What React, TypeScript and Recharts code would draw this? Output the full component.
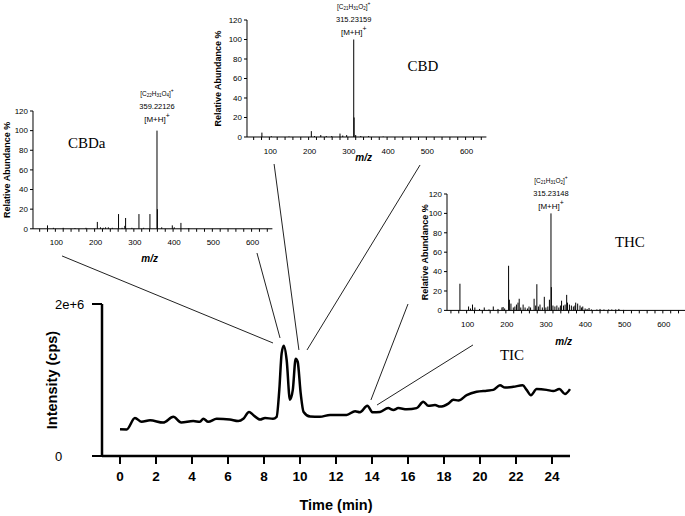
import React from 'react';
import { LineChart, Line, BarChart, Bar, XAxis, YAxis, ReferenceLine, ReferenceDot } from 'recharts';

const SANS = '"Liberation Sans", Arial, Helvetica, sans-serif';
const SERIF = '"Liberation Serif", "Times New Roman", Times, serif';

// total ion chromatogram
const ticTime = [0, 0.37, 0.83, 1.2, 1.67, 2.4, 2.96, 3.4, 4.07, 4.44, 4.63, 4.9, 5.37, 6.1, 6.57, 6.85, 7.17, 7.4, 7.78, 8.06, 8.5, 8.7, 8.85, 8.98, 9.1, 9.26, 9.44, 9.6, 9.76, 9.87, 10.04, 10.2, 10.56, 11.1, 11.67, 12.59, 13.06, 13.33, 13.74, 14.04, 14.44, 14.9, 15.19, 15.46, 15.93, 16.48, 16.85, 17.13, 17.5, 17.78, 18.24, 18.52, 18.8, 19.26, 19.81, 20.37, 20.74, 21.11, 21.39, 21.85, 22.37, 22.59, 22.83, 23.15, 23.7, 24.07, 24.41, 24.72, 25.0];
const ticIntensity = [352000, 350000, 500000, 450000, 470000, 440000, 515000, 440000, 460000, 450000, 490000, 450000, 490000, 480000, 460000, 490000, 580000, 540000, 480000, 500000, 490000, 515000, 870000, 1350000, 1450000, 1260000, 740000, 870000, 1280000, 1240000, 820000, 580000, 520000, 515000, 540000, 540000, 590000, 575000, 660000, 575000, 580000, 630000, 605000, 630000, 615000, 630000, 715000, 660000, 670000, 650000, 690000, 740000, 730000, 800000, 845000, 860000, 870000, 930000, 900000, 910000, 930000, 870000, 800000, 880000, 870000, 855000, 880000, 815000, 880000];
const timeTicks = [0, 2, 4, 6, 8, 10, 12, 14, 16, 18, 20, 22, 24];
const intensityTicks = [0, 2000000];

// mass spectra (m/z, relative abundance %)
const cbdaMz = [80, 95, 120, 150, 178, 207, 215, 222, 228, 235, 245, 261, 270, 277, 279, 295, 313, 325, 341, 359, 360, 371, 398, 403, 420, 440];
const cbdaAbundance = [3.5, 1, 1, 0.8, 1, 7, 1.5, 1, 1.5, 1.5, 1, 15, 1, 3, 11, 1, 15, 1, 15, 100, 20, 1.5, 3.5, 1.5, 6, 0.8];

const cbdMz = [81, 105, 150, 207, 215, 231, 245, 259, 280, 287, 297, 315, 316, 320, 333, 353, 390];
const cbdAbundance = [4.5, 0.8, 0.5, 6, 1, 2, 1, 1, 3.5, 1.5, 2, 100, 20, 2, 1, 1, 0.5];

const thcMz = [83, 105, 110, 115, 121, 133, 145, 157, 168, 180, 190, 193, 197, 207, 209, 213, 219, 223, 227, 231, 234, 238, 244, 249, 255, 259, 263, 272, 276, 279, 283, 287, 293, 298, 302, 307, 311, 315, 316, 320, 325, 330, 335, 339, 342, 347, 351, 355, 357, 362, 367, 372, 376, 378, 383, 389, 393, 396, 402, 407, 412, 418, 432, 440, 450, 462, 470, 480, 488, 500];
const thcAbundance = [27.5, 4, 2, 6, 3, 1.5, 3, 1, 4, 1.5, 3, 3.5, 2, 46, 11, 7, 3, 4, 6, 8, 12, 3, 6, 3, 2, 4, 3, 12, 5, 27, 4, 6, 3, 14, 3, 4, 11, 100, 24, 5, 4, 5, 3, 5, 10, 5, 6, 16, 8, 6, 5, 4, 5, 8, 7, 5, 3, 4, 2, 1.5, 2.5, 1, 1, 1.5, 1, 1, 1, 1, 1.5, 0.5];

const mzTicks = [60, 80, 100, 120, 140, 160, 180, 200, 220, 240, 260, 280, 300, 320, 340, 360, 380, 400, 420, 440, 460, 480, 500, 520, 540, 560, 580, 600, 620, 640];
const abundanceTicks = [0, 20, 40, 60, 80, 100, 120];

// pointer lines from the spectra to the peaks, in (time, intensity) units
const connectors = [
  [-3.22, 2632000, 8.5, 1487000],
  [7.61, 2671000, 8.89, 1553000],
  [8.56, 3842000, 9.94, 1395000],
  [16.67, 3829000, 10.39, 1395000],
  [16.0, 2000000, 13.94, 737000],
  [19.61, 1461000, 14.28, 671000],
];

const IntensityTick = (p: any) => {
  const v = p.payload.value;
  return (
    <text x={p.x - 35} y={p.y} dy="0.35em" textAnchor="start" fontSize={13} fontFamily={SANS} fill="#000">
      {v === 0 ? '0' : v.toExponential(0)}
    </text>
  );
};

const MzTick = (p: any) => {
  if (p.payload.value % 100 !== 0) return <g />;
  return (
    <text x={p.x + 1} y={p.y} dy="0.71em" textAnchor="middle" fontSize={8} fontFamily={SANS} fill="#000">
      {p.payload.value}
    </text>
  );
};

const Stick = (p: any) => {
  const cx = p.x + p.width / 2;
  return <line x1={cx} x2={cx} y1={p.y} y2={p.y + p.height} stroke="#000" strokeWidth={1} />;
};

const PeakNote = ({ viewBox, formula, mass, lift }: any) => {
  const x = viewBox.x + (viewBox.width || 0) / 2;
  const y = viewBox.y + (viewBox.height || 0) / 2 - lift;
  return (
    <g fontFamily={SANS} fill="#000">
      <text x={x} y={y - 33} fontSize={6.5} textAnchor="middle" dominantBaseline="central">
        [
        {formula.map((s: string, i: number) =>
          i % 2 === 0 ? (
            <tspan key={i} dy={i === 0 ? 0 : -1.8}>{s}</tspan>
          ) : (
            <tspan key={i} fontSize={4.5} dy={1.8}>{s}</tspan>
          )
        )}
        <tspan dy={-1.8}>]</tspan>
        <tspan fontSize={5} dy={-3}>+</tspan>
      </text>
      <text x={x} y={y - 20} fontSize={7.5} textAnchor="middle" dominantBaseline="central">{mass}</text>
      <text x={x} y={y - 7} fontSize={8} textAnchor="middle" dominantBaseline="central">
        [M+H]<tspan fontSize={7} dy={-4}>+</tspan>
      </text>
    </g>
  );
};

const Spectrum = (props: any) => {
  const { mz, ab, x0, x1, yTop, yBase, titleY, yLabelX, domain, name, namePos, peak, formula, mass, lift } = props;
  const axisW = 34;
  const left = x0 - axisW;
  const top = yTop - 32;
  const width = x1 - left + 6;
  const xAxisH = 2 * (titleY - yBase);
  const height = yBase - top + xAxisH;
  const data = mz.map((m: number, i: number) => ({ mz: m, ab: ab[i] }));
  return (
    <div style={{ position: 'absolute', left, top }}>
      <BarChart width={width} height={height} data={data} margin={{ top: yTop - top, right: width - (x1 - left), bottom: 0, left: 0 }}>
        <XAxis
          type="number"
          dataKey="mz"
          domain={domain}
          allowDataOverflow
          ticks={mzTicks}
          interval={0}
          height={xAxisH}
          tickSize={3}
          tickMargin={8}
          axisLine={{ stroke: '#000' }}
          tickLine={{ stroke: '#000' }}
          tick={MzTick}
          label={{ value: 'm/z', position: 'center', dx: -3, fontSize: 10, fontWeight: 700, fontStyle: 'italic', fontFamily: SANS, fill: '#000' }}
        />
        <YAxis
          type="number"
          domain={[0, 120]}
          ticks={abundanceTicks}
          interval={0}
          width={axisW}
          tickSize={3}
          tickMargin={2}
          axisLine={{ stroke: '#000' }}
          tickLine={{ stroke: '#000' }}
          tick={{ fontSize: 8, fontFamily: SANS, fill: '#000' }}
          label={{ value: 'Relative Abundance %', angle: -90, position: 'center', dx: yLabelX - (x0 - axisW / 2), fontSize: 9, fontWeight: 700, fontFamily: SANS, fill: '#000' }}
        />
        <Bar dataKey="ab" fill="#000" barSize={1} shape={Stick} isAnimationActive={false} />
        <ReferenceDot x={namePos[0]} y={namePos[1]} r={0} fill="none" stroke="none"
          label={{ value: name, position: 'center', fontSize: 15, fontFamily: SERIF, fill: '#000' }} />
        <ReferenceDot x={peak} y={100} r={0} fill="none" stroke="none"
          label={(p: any) => <PeakNote viewBox={p.viewBox} formula={formula} mass={mass} lift={lift} />} />
      </BarChart>
    </div>
  );
};

export default function App() {
  const tic = ticTime.map((t, i) => ({ t, v: ticIntensity[i] }));
  return (
    <div style={{ position: 'absolute', left: 0, top: 0, width: 685, height: 516, overflow: 'hidden', background: '#fff' }}>
      <div style={{ position: 'absolute', left: 0, top: 0 }}>
        <LineChart width={685} height={516} data={tic} margin={{ top: 304, right: 115, bottom: 0, left: 0 }}>
          <XAxis
            type="number"
            dataKey="t"
            domain={[-1, 25]}
            ticks={timeTicks}
            interval={0}
            height={60}
            tickSize={8}
            tickMargin={7}
            axisLine={{ stroke: '#000', strokeWidth: 2.5 }}
            tickLine={{ stroke: '#000', strokeWidth: 2 }}
            tick={{ fontSize: 13.5, fontWeight: 700, fill: '#000', fontFamily: SANS }}
            label={{ value: 'Time (min)', position: 'center', dy: 19, fontSize: 14.5, fontWeight: 700, fontFamily: SANS, fill: '#000' }}
          />
          <YAxis
            type="number"
            domain={[0, 2000000]}
            ticks={intensityTicks}
            interval={0}
            width={102}
            tickSize={10}
            tickMargin={2}
            axisLine={{ stroke: '#000', strokeWidth: 2.5 }}
            tickLine={{ stroke: '#000', strokeWidth: 2 }}
            tick={IntensityTick}
            label={{ value: 'Intensity (cps)', angle: -90, position: 'center', dx: 1, fontSize: 14.5, fontWeight: 700, fontFamily: SANS, fill: '#000' }}
          />
          {connectors.map((c, i) => (
            <ReferenceLine key={i} segment={[{ x: c[0], y: c[1] }, { x: c[2], y: c[3] }]} stroke="#222" strokeWidth={1} ifOverflow="visible" />
          ))}
          <ReferenceDot x={21.78} y={1329000} r={0} fill="none" stroke="none"
            label={{ value: 'TIC', position: 'center', fontSize: 15, fontFamily: SERIF, fill: '#000' }} />
          <Line type="monotone" dataKey="v" stroke="#000" strokeWidth={2.5} dot={false} isAnimationActive={false} />
        </LineChart>
      </div>
      <Spectrum mz={cbdaMz} ab={cbdaAbundance} x0={33.3} x1={272.7} yTop={110.5} yBase={228.3} titleY={257.7} yLabelX={7}
        domain={[43, 653]} name="CBDa" namePos={[180, 88]} peak={359} formula={['C', '22', 'H', '31', 'O', '4']} mass="359.22126" lift={4.5} />
      <Spectrum mz={cbdMz} ab={cbdAbundance} x0={247.3} x1={486.7} yTop={20} yBase={137} titleY={157} yLabelX={218}
        domain={[43, 653]} name="CBD" namePos={[491, 73]} peak={315} formula={['C', '21', 'H', '31', 'O', '2']} mass="315.23159" lift={0} />
      <Spectrum mz={thcMz} ab={thcAbundance} x0={447} x1={686.4} yTop={194.3} yBase={310.7} titleY={341.7} yLabelX={425}
        domain={[50, 660]} name="THC" namePos={[516, 71]} peak={315} formula={['C', '21', 'H', '31', 'O', '2']} mass="315.23148" lift={0} />
    </div>
  );
}
